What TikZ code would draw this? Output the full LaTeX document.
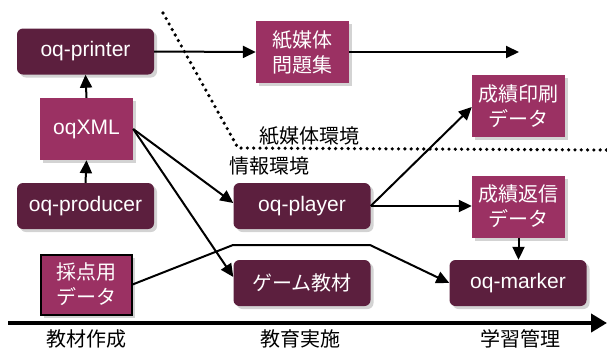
\documentclass[tikz,border=0pt]{standalone}
\usepackage{fontspec}
\setmainfont{Liberation Sans}
\newfontfamily\jp{Noto Sans CJK JP}
\usetikzlibrary{shadows,arrows.meta}
\definecolor{darkbox}{HTML}{5C1F3E}
\definecolor{lightbox}{HTML}{9B3163}
\tikzset{
  shd/.style={drop shadow={opacity=0.35,shadow xshift=3pt,shadow yshift=-3pt}},
  darknode/.style={fill=darkbox,rounded corners=6pt,minimum width=137pt,minimum height=46pt,text=white,font=\fontsize{21}{24}\selectfont,inner sep=0pt,shd},
  lightnode/.style={fill=lightbox,minimum width=93pt,minimum height=62pt,text=white,font=\jp\fontsize{20}{25}\selectfont,align=center,inner sep=0pt,shd},
  arr/.style={line width=2pt,-{Triangle[length=13pt,width=12pt]}},
  lbl/.style={font=\jp\fontsize{20}{22}\selectfont,inner sep=0pt}
}
\begin{document}
\begin{tikzpicture}[x=1pt,y=-1pt]
\useasboundingbox (0,0) rectangle (607,349);
% dotted boundary
\draw[line width=3.6pt,dash pattern=on 0pt off 6.3pt,line cap=round] (163,13) -- (238,148) -- (607,150);
\node[lbl,anchor=south west] (paperenv) at (259,146) {紙媒体環境};
\node[lbl,anchor=north west] (infoenv) at (229,156) {情報環境};
% nodes
\node[darknode] (printer) at (85.5,51.5) {oq-printer};
\node[lightnode] (paper) at (302.5,52) {紙媒体\\問題集};
\node[lightnode,font=\fontsize{21}{24}\selectfont] (xml) at (86.5,129) {oqXML};
\node[darknode] (producer) at (85.5,206) {oq-producer};
\node[lightnode,draw=black,line width=2pt,minimum width=91pt,minimum height=60pt] (score) at (86,284.5) {採点用\\データ};
\node[darknode] (player) at (302,206) {oq-player};
\node[darknode,font=\jp\fontsize{20}{24}\selectfont] (game) at (302,283) {ゲーム教材};
\node[lightnode] (print) at (518.5,106) {成績印刷\\データ};
\node[lightnode] (reply) at (518.5,206.5) {成績返信\\データ};
\node[darknode] (marker) at (518,283) {oq-marker};
\coordinate (pend) at (519,52);
% arrows
\draw[arr] (printer.east) -- (paper.west);
\draw[arr] (paper.east) -- (pend);
\draw[arr] (xml.north) -- (printer.south);
\draw[arr] (producer.north) -- (xml.south);
\draw[arr] (xml.east) -- (player.west |- 0,203);
\draw[arr] (xml.east) -- (game.west |- 0,277);
\draw[arr] (player.east) -- (print.west |- 0,107);
\draw[arr] (player.east) -- (reply.west |- 0,206);
\draw[arr] (reply.south) -- (marker.north -| reply.south);
\draw[arr] (score.east) -- (233,245) -- (370,245) -- (marker.west);
% axis
\coordinate (axs) at (8,323);
\coordinate (axe) at (607,323);
\draw[line width=4pt,-{Triangle[length=16pt,width=18pt]}] (axs) -- (axe);
\node[lbl] (ph1) at (86,339) {教材作成};
\node[lbl] (ph2) at (300,339) {教育実施};
\node[lbl] (ph3) at (520,339) {学習管理};
\end{tikzpicture}
\end{document}
